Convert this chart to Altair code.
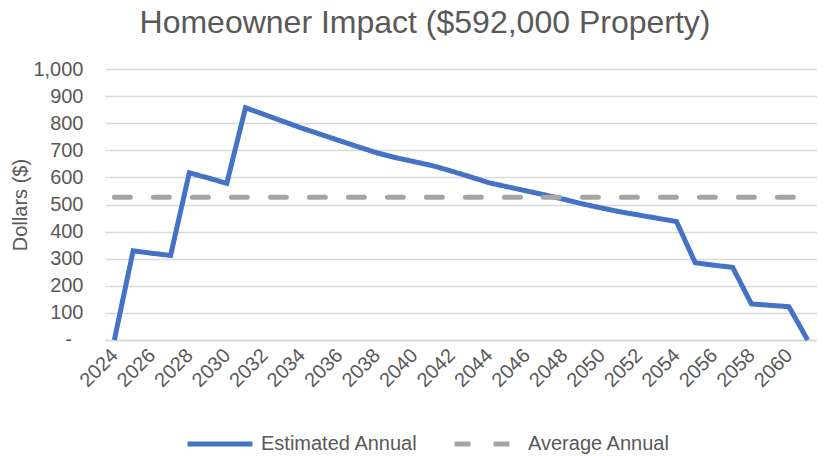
import altair as alt
import pandas as pd

# ---- data ----
years = list(range(2024, 2062))
estimated = [0, 329, 320, 312, 617, 598, 578, 857, 832, 807,
             782, 759, 736, 713, 691, 673, 658, 643, 623, 602,
             580, 565, 550, 535, 519, 502, 487, 473, 461, 449,
             437, 285, 276, 268, 133, 128, 123, 0]
average_annual = 527
series_names = ["Estimated Annual", "Average Annual"]
x_tick_years = list(range(2024, 2061, 2))
y_ticks = list(range(0, 1001, 100))
zero_label = ["-"]

BLUE = "#4472C4"
GRAY = "#A5A5A5"
TEXT = "#595959"
GRID = "#D9D9D9"
FONT = "Liberation Sans"

est_df = pd.DataFrame({"year": years, "value": estimated, "series": series_names[0]})
avg_df = pd.DataFrame({"year": [years[0], years[-1]],
                       "value": [average_annual, average_annual],
                       "series": series_names[1]})
zero_df = pd.DataFrame({"value": [0], "label": zero_label})

x_enc = alt.X("year:Q",
              scale=alt.Scale(domain=[2023.5, 2061.5], nice=False, zero=False),
              axis=alt.Axis(values=x_tick_years, format="d", labelAngle=-45,
                            labelAlign="right", labelBaseline="middle",
                            labelPadding=12, ticks=False, grid=False,
                            domain=True, domainColor=GRID, domainWidth=1.3,
                            labelFontSize=20, labelColor=TEXT, labelFont=FONT,
                            title=None, labelOverlap=False))
y_enc = alt.Y("value:Q",
              scale=alt.Scale(domain=[0, 1000], nice=False),
              axis=alt.Axis(values=y_ticks,
                            labelExpr="datum.value == 0 ? '' : format(datum.value, ',')",
                            ticks=False, domain=False, grid=True,
                            gridColor=GRID, gridWidth=1.3, labelOverlap=False,
                            labelPadding=22, labelFontSize=20, labelColor=TEXT,
                            labelFont=FONT, title="Dollars ($)",
                            titleFontSize=20, titleFont=FONT, titleColor=TEXT,
                            titleFontWeight="normal", titlePadding=2))

legend_kw = dict(title=None, orient="none", legendX=80, legendY=340,
                 direction="horizontal", symbolType="stroke",
                 symbolSize=4225, symbolStrokeWidth=5,
                 labelFontSize=20, labelColor=TEXT, labelFont=FONT,
                 labelOffset=6, columnPadding=26)

color_enc = alt.Color("series:N",
                      scale=alt.Scale(domain=series_names, range=[BLUE, GRAY]),
                      legend=alt.Legend(**legend_kw))
dash_enc = alt.StrokeDash("series:N",
                          scale=alt.Scale(domain=series_names, range=[[1, 0], [16, 23]]),
                          legend=alt.Legend(**legend_kw))

est_line = alt.Chart(est_df).mark_line(strokeWidth=5, strokeJoin="miter").encode(
    x=x_enc, y=y_enc, color=color_enc, strokeDash=dash_enc)
avg_line = alt.Chart(avg_df).mark_line(strokeWidth=5, strokeCap="round").encode(
    x=x_enc, y=y_enc, color=color_enc, strokeDash=dash_enc)
zero_text = alt.Chart(zero_df).mark_text(
    align="right", baseline="middle", fontSize=20, font=FONT, color=TEXT
).encode(y=y_enc, x=alt.value(-33), text="label:N")

chart = alt.layer(est_line, avg_line, zero_text).properties(
    width=712, height=271,
    title=alt.TitleParams("Homeowner Impact ($592,000 Property)", fontSize=32,
                          font=FONT, color=TEXT, fontWeight="normal",
                          anchor="middle", dx=-36, offset=19),
    autosize=alt.AutoSizeParams(type="none"),
    padding={"left": 97, "top": 61, "right": 0, "bottom": 118},
).configure_view(stroke=None)

chart.save("out.html", embed_options={"renderer": "svg", "actions": False})
